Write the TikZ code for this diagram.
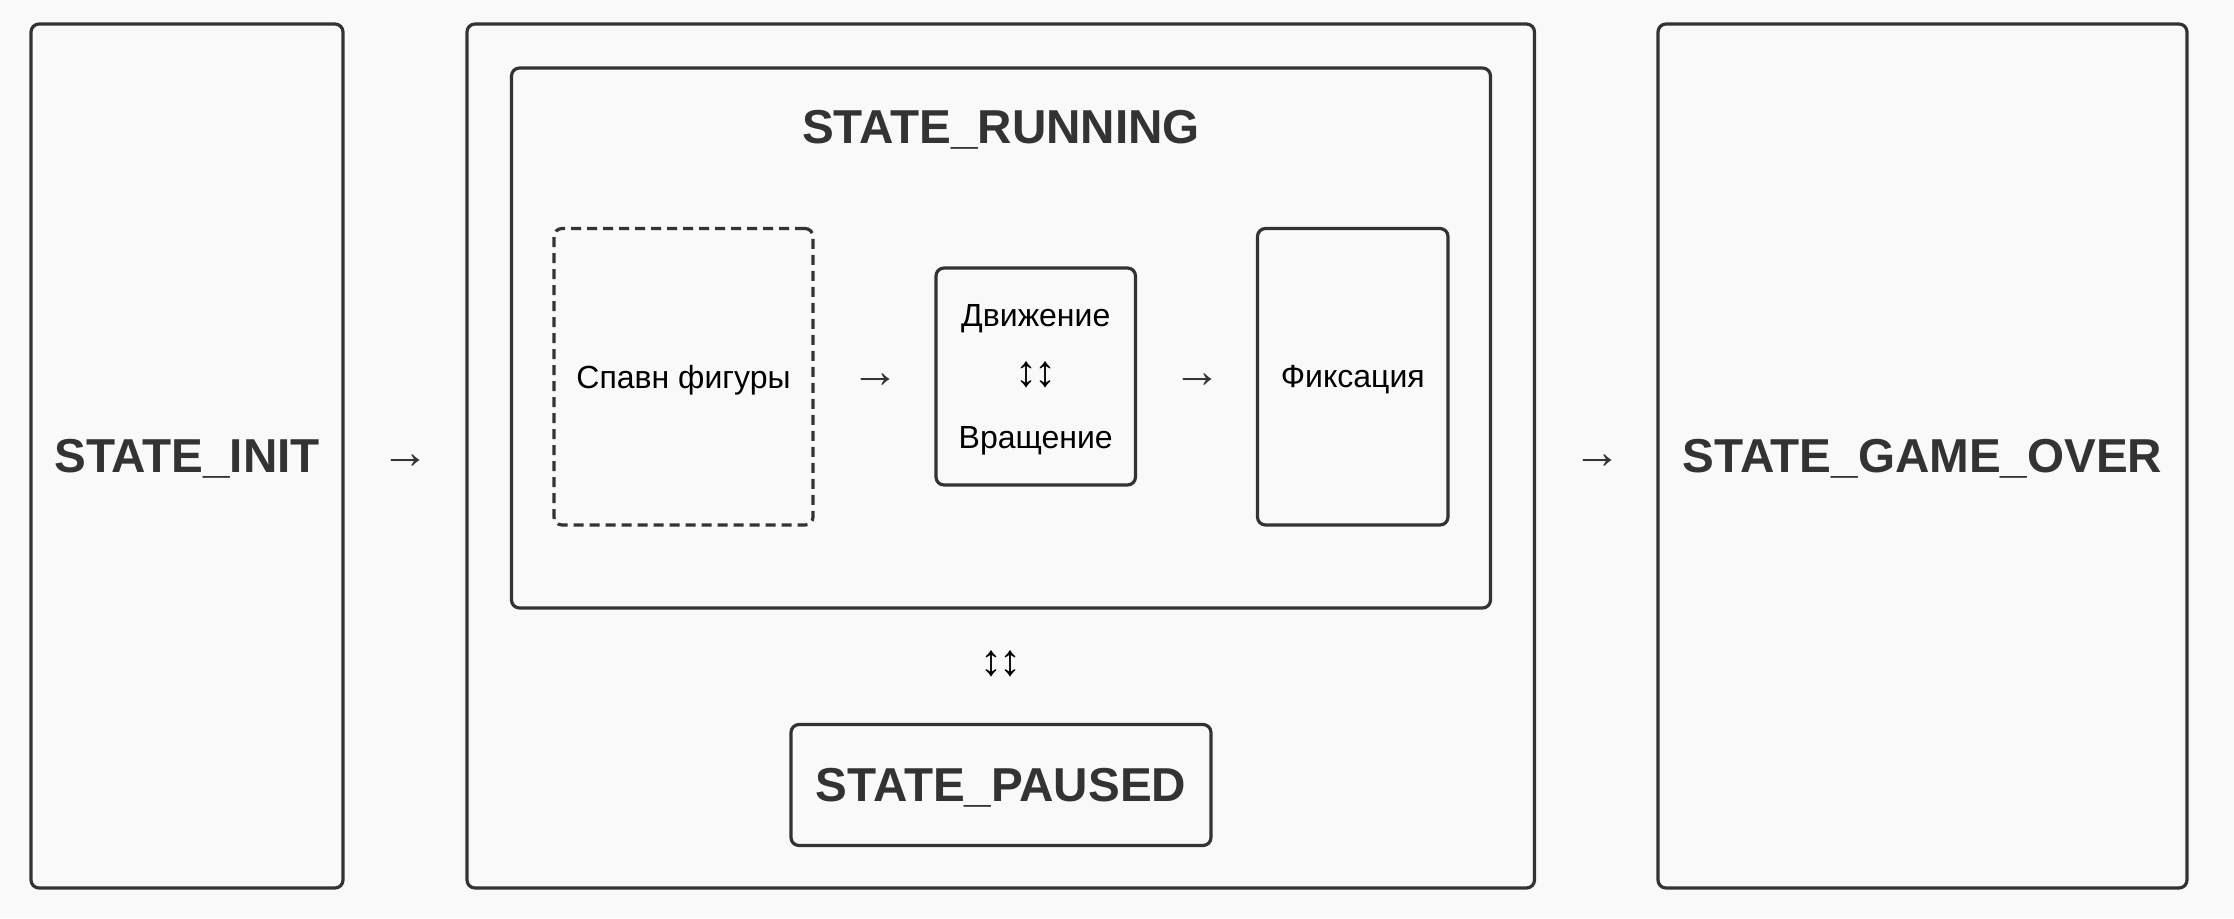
\documentclass[tikz,border=0pt]{standalone}
\usepackage{fontspec}
\setmainfont{Liberation Sans}
\definecolor{bg}{HTML}{F9F9F9}
\definecolor{ink}{HTML}{333333}
\tikzset{
  box/.style={draw=ink, line width=1.6pt, rounded corners=4pt, inner sep=0pt},
  dbox/.style={box, dash pattern=on 5pt off 3pt},
  title/.style={text=ink, font=\fontsize{23.8}{26}\selectfont\bfseries, inner sep=0pt},
  lbl/.style={text=black, font=\fontsize{16}{18}\selectfont, inner sep=0pt},
  garrow/.style={text=ink, font=\fontsize{24}{26}\selectfont, inner sep=0pt},
  udarrow/.style={text=black, font=\fontsize{22}{24}\selectfont, inner sep=0pt},
}
\begin{document}
\begin{tikzpicture}[x=0.5pt,y=-0.5pt]
\fill[bg] (0,0) rectangle (2234,918);
\useasboundingbox (0,0) rectangle (2234,918);
% main states
\node[box, minimum width=156pt, minimum height=432pt] (init) at (187,456) {};
\node[title] (initt) at (187,459) {STATE\_INIT};
\node[box, minimum width=533.75pt, minimum height=432pt] (outer) at (1000.75,456) {};
\node[box, minimum width=264.5pt, minimum height=432pt] (over) at (1922.5,456) {};
\node[title] (overt) at (1922.5,459) {STATE\_GAME\_OVER};
% running
\node[box, minimum width=489.5pt, minimum height=270pt] (run) at (1001,338) {};
\node[title] (runt) at (1001,130) {STATE\_RUNNING};
\node[dbox, minimum width=129.5pt, minimum height=148.25pt] (spawn) at (683.5,376.75) {};
\node[lbl] (spawnt) at (683.5,380) {Спавн фигуры};
\node[box, minimum width=99.75pt, minimum height=108.5pt] (move) at (1035.75,376.5) {};
\node[lbl] (movet) at (1035.75,319) {Движение};
\node[udarrow] (moveud) at (1035.75,375) {↕\kern-1.4pt↕};
\node[lbl] (rott) at (1035.75,441) {Вращение};
\node[box, minimum width=95.25pt, minimum height=148.25pt] (fix) at (1352.75,376.75) {};
\node[lbl] (fixt) at (1352.75,380) {Фиксация};
% paused
\node[udarrow] (pauseud) at (1001,664) {↕\kern-1.4pt↕};
\node[box, minimum width=210pt, minimum height=60.5pt] (paused) at (1001,785) {};
\node[title] (pausedt) at (1001,788) {STATE\_PAUSED};
% arrows
\node[garrow] (a1) at (405,462) {→};
\node[garrow] (a2) at (875,381) {→};
\node[garrow] (a3) at (1197,381) {→};
\node[garrow] (a4) at (1597,462) {→};
\end{tikzpicture}
\end{document}
